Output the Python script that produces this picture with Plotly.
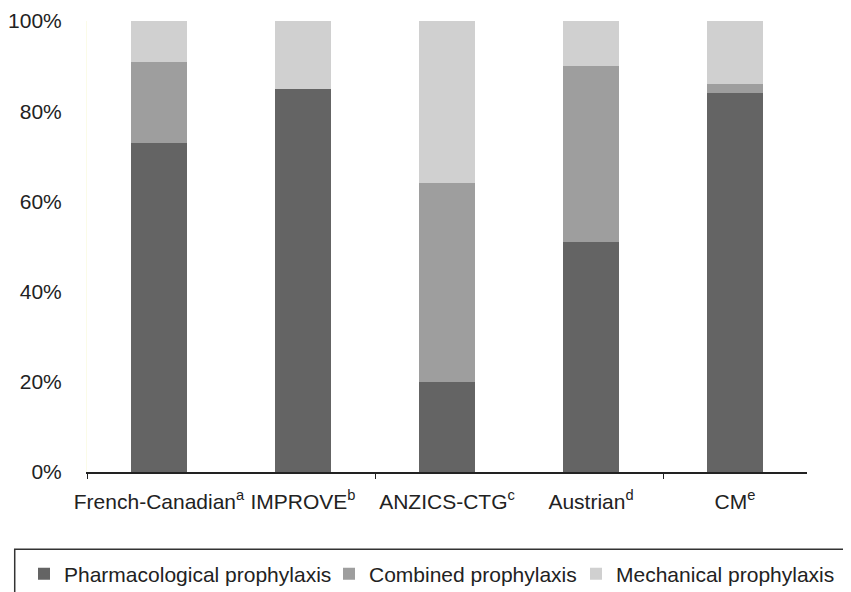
import plotly.graph_objects as go

categories = ["French-Canadian<sup>a</sup>", "IMPROVE<sup>b</sup>", "ANZICS-CTG<sup>c</sup>",
              "Austrian<sup>d</sup>", "CM<sup>e</sup>"]
pharmacological = [73, 85, 20, 51, 84]
combined = [18, 0, 44, 39, 2]
mechanical = [9, 15, 36, 10, 14]
y_ticks = [0, 20, 40, 60, 80, 100]
y_ticklabels = ["0%", "20%", "40%", "60%", "80%", "100%"]

series = [
    ("Pharmacological prophylaxis", pharmacological, "#646464", "legend"),
    ("Combined prophylaxis", combined, "#9e9e9e", "legend2"),
    ("Mechanical prophylaxis", mechanical, "#d0d0d0", "legend3"),
]

W, H = 843, 584
xpos = list(range(len(categories)))
fig = go.Figure()
for name, vals, color, lg in series:
    fig.add_trace(go.Bar(x=xpos, y=vals, name=name, legend=lg,
                         marker=dict(color=color, line=dict(width=0)), width=0.39))

FONT = "Liberation Sans, Arial, sans-serif"
legend_left_px = {"legend": 16, "legend2": 321, "legend3": 568}
legend_y = 1 - 566 / H


def legend_cfg(px):
    return dict(orientation="h", xref="container", yref="container", x=px / W, xanchor="left",
                y=legend_y, yanchor="middle", font=dict(size=21, family=FONT, color="#222222"),
                itemwidth=30, bgcolor="rgba(0,0,0,0)", borderwidth=0)


fig.update_layout(
    width=W, height=H,
    barmode="stack",
    plot_bgcolor="white", paper_bgcolor="white",
    margin=dict(l=79, r=44, t=13, b=120),
    font=dict(family=FONT, size=21, color="#222222"),
    showlegend=True,
    legend=legend_cfg(legend_left_px["legend"]),
    legend2=legend_cfg(legend_left_px["legend2"]),
    legend3=legend_cfg(legend_left_px["legend3"]),
    xaxis=dict(range=[-0.5, 4.5], tickmode="array", tickvals=xpos, ticktext=categories,
               showgrid=False, zeroline=False, showline=True, linecolor="#222222", linewidth=2,
               ticks="", ticklabelstandoff=10, automargin=False,
               minor=dict(tickmode="array", tickvals=[-0.5, 1.5, 3.5], ticks="outside",
                          ticklen=5, tickcolor="#222222", tickwidth=1, showgrid=False)),
    yaxis=dict(range=[0, 100], tickmode="array", tickvals=y_ticks, ticktext=y_ticklabels,
               showgrid=False, zeroline=False, showline=True, linecolor="#fbfbe8", linewidth=1,
               ticks="", ticklabelstandoff=20, automargin=False),
    shapes=[dict(type="rect", xref="paper", yref="paper", x0=-0.1004, x1=1.1, y0=-0.1714, y1=-0.32,
                 line=dict(color="#333333", width=1.5), fillcolor="rgba(0,0,0,0)", layer="above")],
)

fig.write_html("out.html")
